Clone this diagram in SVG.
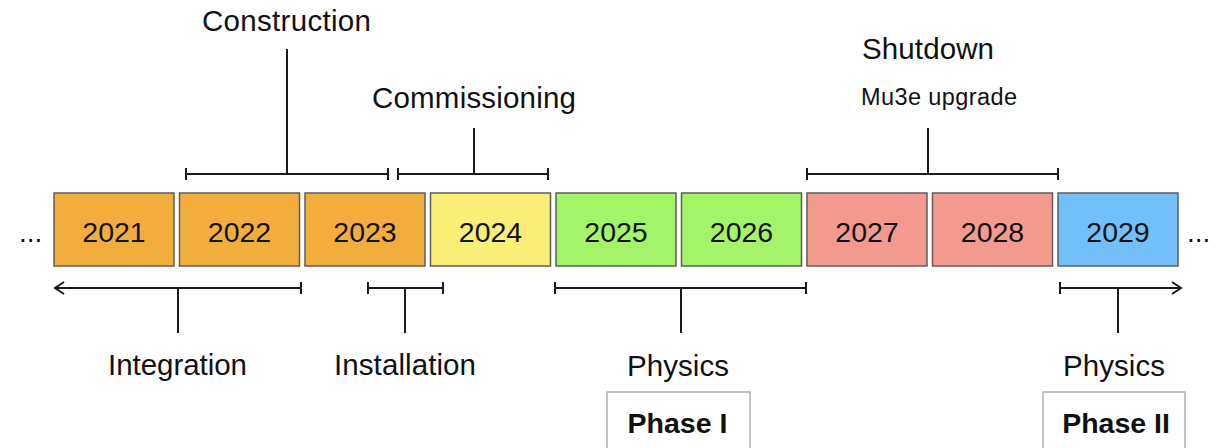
<svg xmlns="http://www.w3.org/2000/svg" width="1225" height="448" viewBox="0 0 1225 448">
  <defs>
    <style>
      .lbl { font-family: "Liberation Sans", Arial, sans-serif; font-size: 29.5px; fill: #111; text-anchor: middle; }
      .small { font-size: 23.5px; }
      .yr { font-family: "Liberation Sans", Arial, sans-serif; font-size: 28.5px; fill: #111; text-anchor: middle; }
      .phase { font-family: "Liberation Sans", Arial, sans-serif; font-size: 28.5px; font-weight: bold; fill: #111; text-anchor: middle; }
      .dots { font-family: "Liberation Sans", Arial, sans-serif; font-size: 28px; fill: #111; }
      .year { stroke: #5e5e5e; stroke-width: 1.5; }
      .line { stroke: #1a1a1a; stroke-width: 2; fill: none; }
      .frame { fill: #fff; stroke: #b5b5b5; stroke-width: 1.6; }
      .orange { fill: #f1ae3c; }
      .yellow { fill: #f9ee76; }
      .green { fill: #a4f46a; }
      .red { fill: #f19a8d; }
      .blue { fill: #73bff7; }
    </style>
    <marker id="open-arrow" markerWidth="12" markerHeight="14" refX="10" refY="7" orient="auto" markerUnits="userSpaceOnUse">
      <path d="M1,1 L10,7 L1,13" fill="none" stroke="#1a1a1a" stroke-width="2"/>
    </marker>
  </defs>

  <rect width="1225" height="448" fill="#fff"/>

  <!-- ellipses at both ends of the timeline -->
  <text class="dots" x="19" y="242">...</text>
  <text class="dots" x="1187" y="242">...</text>

  <!-- year boxes -->
  <g id="y2021"><rect class="year orange" x="54" y="193" width="120" height="73"/><text class="yr" x="114" y="241.5">2021</text></g>
  <g id="y2022"><rect class="year orange" x="179.5" y="193" width="120" height="73"/><text class="yr" x="239.5" y="241.5">2022</text></g>
  <g id="y2023"><rect class="year orange" x="305" y="193" width="120" height="73"/><text class="yr" x="365" y="241.5">2023</text></g>
  <g id="y2024"><rect class="year yellow" x="430.5" y="193" width="120" height="73"/><text class="yr" x="490.5" y="241.5">2024</text></g>
  <g id="y2025"><rect class="year green" x="556" y="193" width="120" height="73"/><text class="yr" x="616" y="241.5">2025</text></g>
  <g id="y2026"><rect class="year green" x="681.5" y="193" width="120" height="73"/><text class="yr" x="741.5" y="241.5">2026</text></g>
  <g id="y2027"><rect class="year red" x="807" y="193" width="120" height="73"/><text class="yr" x="867" y="241.5">2027</text></g>
  <g id="y2028"><rect class="year red" x="932.5" y="193" width="120" height="73"/><text class="yr" x="992.5" y="241.5">2028</text></g>
  <g id="y2029"><rect class="year blue" x="1058" y="193" width="120" height="73"/><text class="yr" x="1118" y="241.5">2029</text></g>

  <!-- period brackets -->
  <g id="connectors">
    <!-- construction -->
    <path class="line" d="M186,174 H388 M186,168 V180 M388,168 V180 M287,49 V174"/>
    <!-- commissioning -->
    <path class="line" d="M398,174 H548 M398,168 V180 M548,168 V180 M474,128 V174"/>
    <!-- shutdown -->
    <path class="line" d="M807,174 H1058 M807,168 V180 M1058,168 V180 M928,128 V174"/>
    <!-- integration -->
    <path class="line" d="M301,288 H55" marker-end="url(#open-arrow)"/>
    <path class="line" d="M301,282 V294 M178,288 V333"/>
    <!-- installation -->
    <path class="line" d="M368,288 H443 M368,282 V294 M443,282 V294 M405,288 V333"/>
    <!-- physics phase I -->
    <path class="line" d="M555,288 H806 M555,282 V294 M806,282 V294 M681,288 V333"/>
    <!-- physics phase II -->
    <path class="line" d="M1060,288 H1181" marker-end="url(#open-arrow)"/>
    <path class="line" d="M1060,282 V294 M1118,288 V333"/>
  </g>

  <!-- labels -->
  <g id="construction"><text class="lbl" x="286.5" y="31" textLength="169">Construction</text></g>
  <g id="commissioning"><text class="lbl" x="474" y="108" textLength="204">Commissioning</text></g>
  <g id="shutdown">
    <text class="lbl" x="928" y="59" textLength="132">Shutdown</text>
    <text class="lbl small" x="939" y="105" textLength="156">Mu3e upgrade</text>
  </g>
  <g id="integration"><text class="lbl" x="177.5" y="375" textLength="139">Integration</text></g>
  <g id="installation"><text class="lbl" x="405" y="375" textLength="142">Installation</text></g>
  <g id="physics1"><text class="lbl" x="678" y="376" textLength="102">Physics</text></g>
  <g id="physics2"><text class="lbl" x="1114" y="376" textLength="102">Physics</text></g>

  <!-- phase boxes -->
  <g id="phase1">
    <rect class="frame" x="607" y="392" width="143" height="70"/>
    <text class="phase" x="677.5" y="433">Phase I</text>
  </g>
  <g id="phase2">
    <rect class="frame" x="1043" y="392" width="142" height="70"/>
    <text class="phase" x="1116" y="433">Phase II</text>
  </g>
</svg>
